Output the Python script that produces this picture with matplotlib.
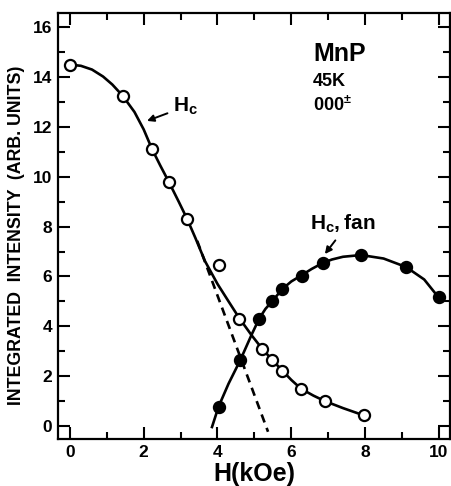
import numpy as np
import matplotlib
matplotlib.use('Agg')
import matplotlib.pyplot as plt
from matplotlib.ticker import MultipleLocator

plt.rcParams['font.family'] = ['Liberation Sans', 'DejaVu Sans']
plt.rcParams['font.weight'] = 'bold'
plt.rcParams['mathtext.fontset'] = 'custom'
plt.rcParams['mathtext.rm'] = 'Liberation Sans:bold'
plt.rcParams['mathtext.bf'] = 'Liberation Sans:bold'
plt.rcParams['mathtext.it'] = 'Liberation Sans:bold'

# puntos medidos, Hc (circulos abiertos)
hc_x = [0.0, 1.43, 2.23, 2.69, 3.18, 4.04, 4.59, 5.20, 5.49, 5.76, 6.26, 6.91, 7.96]
hc_y = [14.5, 13.25, 11.1, 9.77, 8.30, 6.45, 4.31, 3.09, 2.66, 2.22, 1.48, 1.02, 0.43]

# puntos medidos, Hc,fan (circulos llenos)
fan_x = [4.03, 4.62, 5.13, 5.49, 5.76, 6.28, 6.85, 7.89, 9.11, 9.99]
fan_y = [0.78, 2.65, 4.31, 5.00, 5.51, 6.03, 6.54, 6.85, 6.38, 5.16]

# curvas trazadas a mano
hc_curve_x = [0.0, 0.3, 0.6, 0.9, 1.15, 1.43, 1.75, 2.0, 2.23, 2.45, 2.69, 2.95, 3.18, 3.4, 3.66,
              4.0, 4.3, 4.59, 4.92, 5.2, 5.49, 5.76, 6.0, 6.26, 6.6, 6.91, 7.4, 7.96]
hc_curve_y = [14.5, 14.45, 14.3, 14.02, 13.7, 13.25, 12.6, 11.9, 11.1, 10.45, 9.77, 9.0, 8.3, 7.55, 6.62,
              5.7, 5.0, 4.33, 3.65, 3.12, 2.64, 2.22, 1.85, 1.5, 1.22, 1.0, 0.72, 0.43]

fan_curve_x = [3.84, 4.03, 4.3, 4.62, 4.92, 5.13, 5.3, 5.49, 5.76, 6.0, 6.28, 6.55, 6.85,
               7.1, 7.4, 7.89, 8.5, 9.11, 9.6, 9.99]
fan_curve_y = [-0.09, 0.78, 1.7, 2.65, 3.65, 4.31, 4.7, 5.02, 5.5, 5.8, 6.05, 6.3, 6.54,
               6.68, 6.79, 6.86, 6.72, 6.38, 5.88, 5.16]

dash_x = [3.45, 5.37]
dash_y = [7.43, -0.23]

fig = plt.figure(figsize=(4.52, 4.86), dpi=100)
ax = fig.add_axes([0.128, 0.0967, 0.8676, 0.8766])

ax.plot(hc_curve_x, hc_curve_y, color='k', lw=1.9, solid_capstyle='butt', solid_joinstyle='round')
ax.plot(fan_curve_x, fan_curve_y, color='k', lw=1.9, solid_capstyle='butt', solid_joinstyle='round')
ax.plot(dash_x, dash_y, color='k', lw=1.9, ls=(0, (3.2, 2.2)))

ax.plot(hc_x, hc_y, 'o', ms=8, mfc='white', mec='k', mew=1.6, zorder=3)
ax.plot(fan_x, fan_y, 'o', ms=8, mfc='k', mec='k', mew=1.6, zorder=3)

ax.set_xlim(-0.325, 10.3)
ax.set_ylim(-0.52, 16.57)

ax.xaxis.set_major_locator(MultipleLocator(2))
ax.xaxis.set_minor_locator(MultipleLocator(1))
ax.yaxis.set_major_locator(MultipleLocator(2))
ax.yaxis.set_minor_locator(MultipleLocator(1))
ax.tick_params(which='both', direction='in', top=True, right=True, width=1.5, labelsize=12.5)
ax.tick_params(which='major', length=8.6, pad=4)
ax.tick_params(which='minor', length=5)
for s in ax.spines.values():
    s.set_linewidth(1.6)

ax.set_xlabel('H(kOe)', fontsize=18, fontweight='bold', labelpad=2)
ax.set_ylabel('INTEGRATED  INTENSITY  (ARB. UNITS)', fontsize=12.8, fontweight='bold')
ax.yaxis.set_label_coords(-0.084, 0.477)

ax.text(6.59, 14.92, 'MnP', fontsize=18, fontweight='bold', va='center', ha='left')
ax.text(6.59, 13.82, '45K', fontsize=13, fontweight='bold', va='center', ha='left')
ax.text(6.59, 12.88, r'000$^{\pm}$', fontsize=13, fontweight='bold', va='center', ha='left')

ax.annotate(r'$\mathbf{H}_{\mathbf{c}}$', xy=(2.09, 12.24), xytext=(2.79, 12.6),
            fontsize=15, va='baseline', ha='left',
            arrowprops=dict(arrowstyle='-|>', color='k', lw=1.4, mutation_scale=10,
                            shrinkA=2, shrinkB=0))
ax.annotate(r'$\mathbf{H}_{\mathbf{c}}\mathbf{,fan}$', xy=(6.91, 6.9), xytext=(6.5, 7.86),
            fontsize=15, va='baseline', ha='left',
            arrowprops=dict(arrowstyle='-|>', color='k', lw=1.4, mutation_scale=10,
                            shrinkA=2, shrinkB=0, relpos=(0.45, 0)))

fig.savefig('out.png', dpi=100)
